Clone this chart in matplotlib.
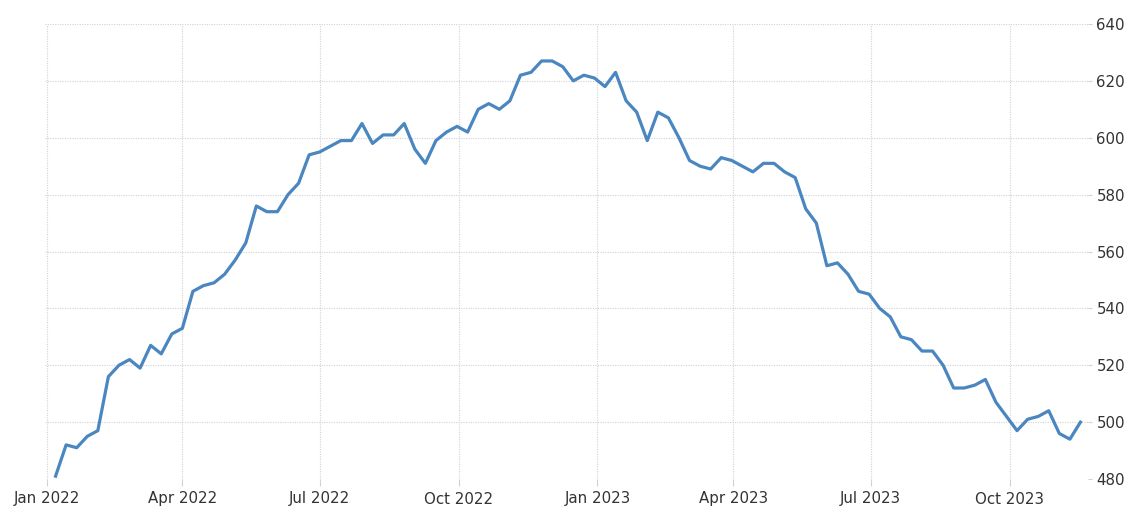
import matplotlib
matplotlib.use("Agg")
import matplotlib.pyplot as plt
import pandas as pd

start_date = "2022-01-07"
rig_counts_2022 = [481, 492, 491, 495, 497, 516, 520, 522, 519, 527, 524, 531, 533,
                   546, 548, 549, 552, 557, 563, 576, 574, 574, 580, 584, 594, 595,
                   597, 599, 599, 605, 598, 601, 601, 605, 596, 591, 599, 602, 604,
                   602, 610, 612, 610, 613, 622, 623, 627, 627, 625, 620, 622, 621]
rig_counts_2023 = [618, 623, 613, 609, 599, 609, 607, 600, 592, 590, 589, 593, 592,
                   590, 588, 591, 591, 588, 586, 575, 570, 555, 556, 552, 546, 545,
                   540, 537, 530, 529, 525, 525, 520, 512, 512, 513, 515, 507, 502,
                   497, 501, 502, 504, 496, 494, 500]
values = rig_counts_2022 + rig_counts_2023
dates = pd.date_range(start_date, periods=len(values), freq="7D")

y_ticks = [480, 500, 520, 540, 560, 580, 600, 620, 640]
x_tick_dates = ["2022-01-01", "2022-04-01", "2022-07-01", "2022-10-01",
                "2023-01-01", "2023-04-01", "2023-07-01", "2023-10-01"]
x_tick_labels = ["Jan 2022", "Apr 2022", "Jul 2022", "Oct 2022",
                 "Jan 2023", "Apr 2023", "Jul 2023", "Oct 2023"]

fig = plt.figure(figsize=(11.34, 5.12), dpi=100)
ax = fig.add_axes([45/1134, 1 - 479/512, (1088 - 45)/1134, (479 - 24)/512])

ax.plot(dates, values, color="#4a86bf", linewidth=2.3, solid_joinstyle="round")

ax.set_ylim(480, 640)
ax.set_xlim(pd.Timestamp("2021-12-31"), pd.Timestamp("2023-11-22"))
ax.set_yticks(y_ticks)
ax.set_xticks(pd.to_datetime(x_tick_dates))
ax.set_xticklabels(x_tick_labels)

ax.yaxis.tick_right()
for s in ax.spines.values():
    s.set_visible(False)
ax.grid(True, color="#d2d2d2", linestyle=(0, (1, 1.2)), linewidth=0.8)
ax.tick_params(axis="both", colors="#d2d2d2", labelcolor="#333333",
               labelsize=10.8, length=5, width=0.8)
ax.tick_params(axis="x", pad=4)
ax.tick_params(axis="y", length=3, pad=3)
for lab in ax.get_xticklabels() + ax.get_yticklabels():
    lab.set_family("DejaVu Sans")

fig.savefig("out.png", dpi=100, facecolor="white")
